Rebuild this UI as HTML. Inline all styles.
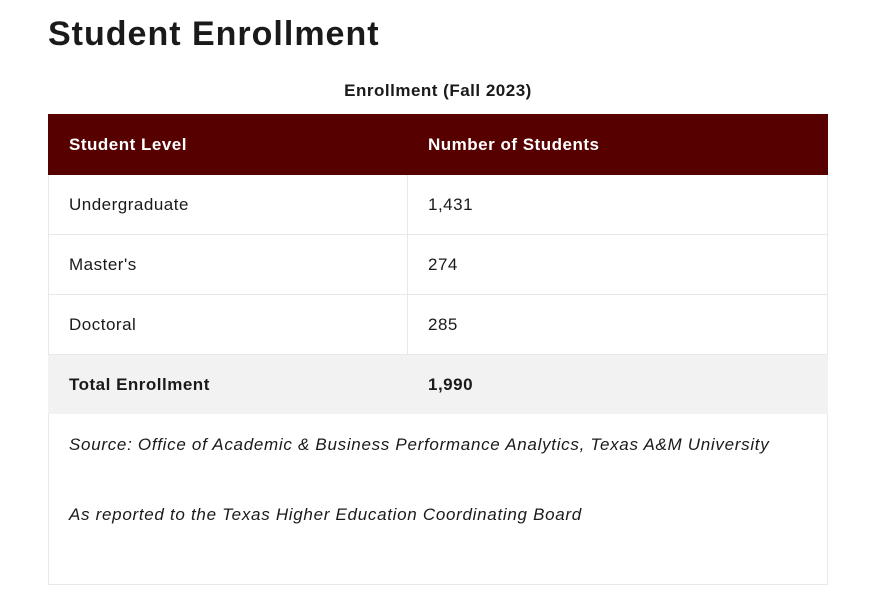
<!DOCTYPE html>
<html><head><style>
body{margin:0;background:#fff;width:883px;height:608px;position:relative;font-family:"Liberation Sans",sans-serif;color:#1a1a1a;overflow:hidden}
.a{position:absolute}
h1{position:absolute;left:48px;top:15px;margin:0;font-size:34px;font-weight:bold;color:#1a1a1a;letter-spacing:1px}
.cap{left:48px;width:780px;top:81px;text-align:center;font-weight:bold;font-size:17px;letter-spacing:0.5px}
.hdr{left:48px;top:114px;width:780px;height:61px;background:#560000}
.t{font-size:17px;line-height:20px;letter-spacing:0.5px}
.w{color:#fff;font-weight:bold}
.row{left:48px;width:778px;border:1px solid #e8e8e8;border-top:none}
.i{font-style:italic;letter-spacing:0.7px}
</style></head><body>
<h1>Student Enrollment</h1>
<div class="a cap">Enrollment (Fall 2023)</div>
<div class="a hdr"></div>
<div class="a t w" style="left:69px;top:135px">Student Level</div>
<div class="a t w" style="left:428px;top:135px">Number of Students</div>
<div class="a row" style="top:175px;height:59px"></div>
<div class="a row" style="top:235px;height:59px"></div>
<div class="a row" style="top:295px;height:59px"></div>
<div class="a" style="left:407px;top:175px;width:1px;height:180px;background:#e8e8e8"></div>
<div class="a" style="left:48px;top:355px;width:780px;height:59px;background:#f2f2f2"></div>
<div class="a row" style="top:414px;height:170px"></div>
<div class="a t" style="left:69px;top:195px">Undergraduate</div>
<div class="a t" style="left:428px;top:195px">1,431</div>
<div class="a t" style="left:69px;top:255px">Master's</div>
<div class="a t" style="left:428px;top:255px">274</div>
<div class="a t" style="left:69px;top:315px">Doctoral</div>
<div class="a t" style="left:428px;top:315px">285</div>
<div class="a t" style="left:69px;top:375px;font-weight:bold">Total Enrollment</div>
<div class="a t" style="left:428px;top:375px;font-weight:bold">1,990</div>
<div class="a t i" style="left:69px;top:435px">Source: Office of Academic &amp; Business Performance Analytics, Texas A&amp;M University</div>
<div class="a t i" style="left:69px;top:505px">As reported to the Texas Higher Education Coordinating Board</div>
</body></html>
